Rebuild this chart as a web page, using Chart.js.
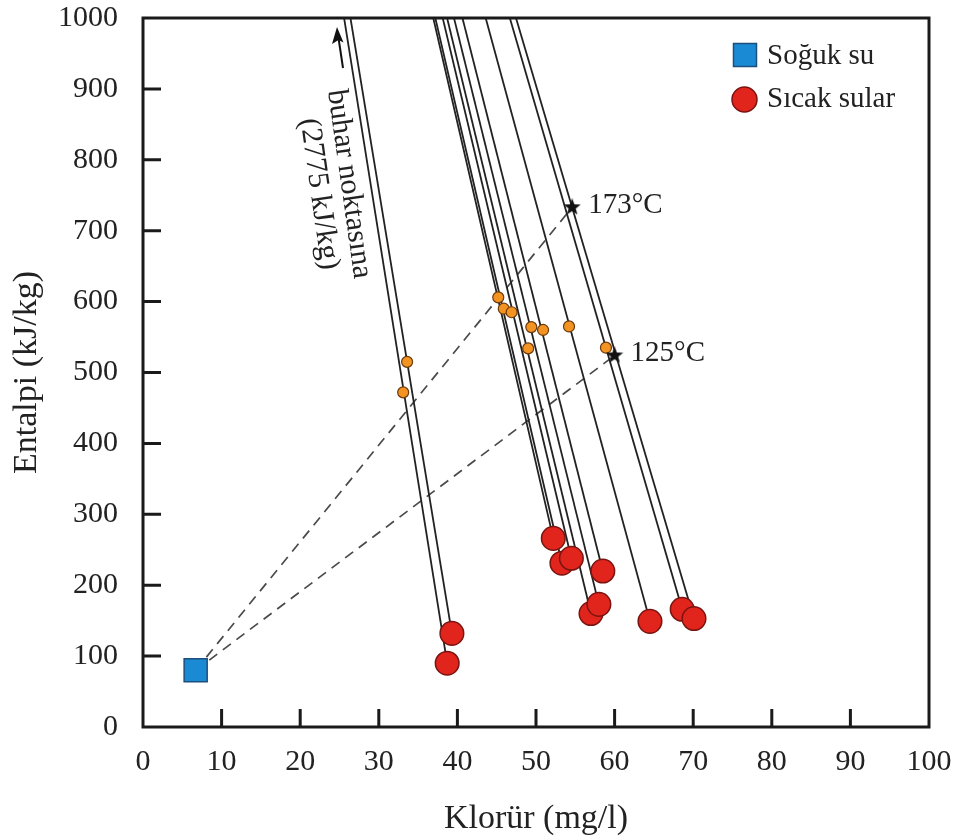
<!DOCTYPE html>
<html>
<head>
<meta charset="utf-8">
<script src="https://cdn.jsdelivr.net/npm/chart.js@4"></script>
<style>
  html, body { margin: 0; padding: 0; background: #fff; }
  #wrap { width: 961px; height: 836px; }
</style>
</head>
<body>
<div id="wrap"><canvas id="chart" width="961" height="836"></canvas></div>
<script>
// Données
const coldCl = [6.7];
const coldH = [80];
const hotCl = [38.7, 39.3, 52.2, 53.3, 54.5, 58.5, 57.0, 58.0, 64.5, 68.6, 70.1];
const hotH = [90, 132, 266, 231, 238, 220, 160, 173, 149, 166, 153];
const mixCl = [33.6, 33.1, 45.2, 45.9, 46.9, 49.4, 50.9, 49.0, 54.2, 58.9];
const mixH = [515, 472, 606, 590, 585, 564, 560, 534, 565, 535];
const starCl = [54.6, 60.0];
const starH = [733, 524];
const starLabels = ['173°C', '125°C'];
const STEAM_CL = 0;     // point de vapeur
const STEAM_H = 2775;
const legendLabels = ['Soğuk su', 'Sıcak sular'];
const xTicks = [0, 10, 20, 30, 40, 50, 60, 70, 80, 90, 100];
const yTicks = [0, 100, 200, 300, 400, 500, 600, 700, 800, 900, 1000];

const FONT = "'Liberation Serif', 'Times New Roman', serif";

// étoile pleine pour les points de température
function makeStar(size) {
  const c = document.createElement('canvas');
  c.width = size; c.height = size;
  const g = c.getContext('2d');
  const r = size / 2, ri = r * 0.42;
  g.beginPath();
  for (let i = 0; i < 10; i++) {
    const a = -Math.PI / 2 + i * Math.PI / 5;
    const rr = i % 2 === 0 ? r : ri;
    g.lineTo(r + rr * Math.cos(a), r + rr * Math.sin(a));
  }
  g.closePath();
  g.fillStyle = '#111';
  g.fill();
  return c;
}
const starImg = makeStar(18);

const pts = (xs, ys) => xs.map((x, i) => ({ x: x, y: ys[i] }));

const datasets = [];
datasets.push({
  label: 'stars', data: pts(starCl, starH),
  pointStyle: starImg, pointRadius: 9
});
datasets.push({
  label: legendLabels[0], data: pts(coldCl, coldH),
  pointStyle: 'rect', pointRadius: 16.3,
  backgroundColor: '#1a8ad4', borderColor: '#1d4f7c', borderWidth: 1.5
});
datasets.push({
  label: legendLabels[1], data: pts(hotCl, hotH),
  pointStyle: 'circle', pointRadius: 11.8,
  backgroundColor: '#e1251d', borderColor: '#7a1410', borderWidth: 1.5
});
datasets.push({
  label: 'mix', data: pts(mixCl, mixH),
  pointStyle: 'circle', pointRadius: 5.5,
  backgroundColor: '#f39322', borderColor: '#6b3a0c', borderWidth: 1.2
});
// droites de mélange vers le point de vapeur
hotCl.forEach((x, i) => {
  datasets.push({
    label: 'line' + i,
    data: [{ x: x, y: hotH[i] }, { x: STEAM_CL, y: STEAM_H }],
    showLine: true, pointRadius: 0,
    borderColor: '#222', borderWidth: 1.8
  });
});
// droites tiretées depuis l'eau froide
starCl.forEach((x, i) => {
  datasets.push({
    label: 'dash' + i,
    data: [{ x: coldCl[0], y: coldH[0] }, { x: x, y: starH[i] }],
    showLine: true, pointRadius: 0,
    borderColor: '#4a4a4a', borderWidth: 1.7, borderDash: [10, 7]
  });
});

const decorPlugin = {
  id: 'decor',
  afterDatasetsDraw(chart) {
    const { ctx, chartArea: a, scales: { x, y } } = chart;
    ctx.save();
    // cadre
    ctx.strokeStyle = '#1a1a1a';
    ctx.lineWidth = 3;
    ctx.strokeRect(a.left, a.top, a.right - a.left, a.bottom - a.top);
    // graduations vers l'intérieur
    ctx.beginPath();
    xTicks.slice(1, -1).forEach(v => {
      const px = x.getPixelForValue(v);
      ctx.moveTo(px, a.bottom); ctx.lineTo(px, a.bottom - 18);
    });
    yTicks.slice(1, -1).forEach(v => {
      const py = y.getPixelForValue(v);
      ctx.moveTo(a.left, py); ctx.lineTo(a.left + 18, py);
    });
    ctx.stroke();

    // étiquettes des étoiles
    ctx.fillStyle = '#222';
    ctx.font = '29px ' + FONT;
    ctx.textAlign = 'left';
    ctx.textBaseline = 'middle';
    starCl.forEach((v, i) => {
      ctx.fillText(starLabels[i], x.getPixelForValue(v) + 16, y.getPixelForValue(starH[i]) - 2);
    });

    // légende
    const hot = chart.data.datasets[2], cold = chart.data.datasets[1];
    ctx.fillStyle = cold.backgroundColor;
    ctx.strokeStyle = cold.borderColor;
    ctx.lineWidth = 1.5;
    ctx.fillRect(733.5, 43.5, 23, 23);
    ctx.strokeRect(733.5, 43.5, 23, 23);
    ctx.beginPath();
    ctx.arc(744.5, 99.5, 12.5, 0, Math.PI * 2);
    ctx.fillStyle = hot.backgroundColor;
    ctx.fill();
    ctx.strokeStyle = hot.borderColor;
    ctx.stroke();
    ctx.fillStyle = '#222';
    ctx.font = '29px ' + FONT;
    ctx.fillText(legendLabels[0], 767, 56);
    ctx.fillText(legendLabels[1], 767, 99);

    // annotation inclinée
    ctx.font = '30px ' + FONT;
    ctx.textAlign = 'center';
    const rot = 82 * Math.PI / 180;
    [['buhar noktasına', 349, 184], ['(2775 kJ/kg)', 319, 194]].forEach(t => {
      ctx.save();
      ctx.translate(t[1], t[2]);
      ctx.rotate(rot);
      ctx.fillText(t[0], 0, 0);
      ctx.restore();
    });
    // flèche vers le haut
    ctx.strokeStyle = '#111';
    ctx.fillStyle = '#111';
    ctx.lineWidth = 2;
    ctx.beginPath();
    ctx.moveTo(343, 68); ctx.lineTo(338.5, 38);
    ctx.stroke();
    ctx.beginPath();
    ctx.moveTo(337, 27); ctx.lineTo(332, 44); ctx.lineTo(338.5, 40); ctx.lineTo(343.5, 42.5);
    ctx.closePath();
    ctx.fill();
    ctx.restore();
  }
};

new Chart(document.getElementById('chart'), {
  type: 'scatter',
  data: { datasets: datasets },
  options: {
    responsive: false,
    animation: false,
    layout: { padding: { top: 18, right: 32, left: 0, bottom: 0 } },
    plugins: { legend: { display: false }, tooltip: { enabled: false } },
    scales: {
      x: {
        type: 'linear', min: 0, max: 100,
        afterFit(s) { s.height = 109; s.paddingLeft = 0; s.paddingRight = 0; },
        afterBuildTicks(s) { s.ticks = xTicks.map(v => ({ value: v })); },
        grid: { display: false, drawTicks: false },
        border: { display: false },
        ticks: { color: '#222', padding: 17, font: { family: FONT, size: 30 }, callback: v => String(v) },
        title: {
          display: true, text: 'Klorür (mg/l)', color: '#222',
          padding: { top: 0, bottom: 0 },
          font: { family: FONT, size: 34, lineHeight: 1 }
        }
      },
      y: {
        type: 'linear', min: 0, max: 1000,
        afterFit(s) { s.width = 143; s.paddingTop = 0; s.paddingBottom = 0; },
        afterBuildTicks(s) { s.ticks = yTicks.map(v => ({ value: v })); },
        grid: { display: false, drawTicks: false },
        border: { display: false },
        ticks: { color: '#222', padding: 25, font: { family: FONT, size: 30 }, callback: v => String(v) },
        title: {
          display: true, text: 'Entalpi (kJ/kg)', color: '#222',
          padding: { top: 10, bottom: 0 },
          font: { family: FONT, size: 34, lineHeight: 1 }
        }
      }
    }
  },
  plugins: [decorPlugin]
});
</script>
</body>
</html>
